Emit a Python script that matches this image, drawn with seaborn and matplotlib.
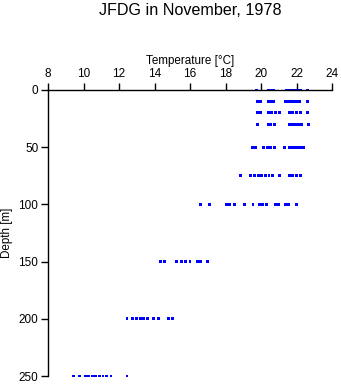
import matplotlib
matplotlib.use("Agg")
import matplotlib.pyplot as plt
import seaborn as sns
import pandas as pd

# Temperature profile samples, grouped by sampling depth (m)
depths = [0, 10, 20, 30, 50, 75, 100, 150, 200, 250]
temp_0 = [19.75, 20.4, 20.55, 20.7, 21.45, 21.6, 21.75, 21.9, 22.05, 22.2, 22.6]
temp_10 = [19.8, 19.95, 20.4, 20.55, 20.7, 21.4, 21.55, 21.7, 21.85, 22.0, 22.15, 22.6]
temp_20 = [19.8, 19.95, 20.4, 20.6, 20.8, 21.05, 21.6, 21.8, 22.0, 22.2, 22.6]
temp_30 = [19.8, 20.4, 20.55, 20.75, 21.6, 21.8, 21.95, 22.1, 22.3, 22.65]
temp_50 = [19.5, 19.7, 20.15, 20.35, 20.55, 20.75, 21.3, 21.6, 21.75, 21.9, 22.05, 22.2, 22.4]
temp_75 = [18.85, 19.4, 19.65, 19.85, 20.05, 20.25, 20.45, 20.65, 21.05, 21.6, 21.8, 22.0, 22.2]
temp_100 = [16.6, 17.1, 18.05, 18.2, 18.5, 19.05, 19.55, 19.9, 20.1, 20.3, 20.8, 21.0, 21.4, 21.55, 22.0]
temp_150 = [14.35, 14.55, 15.25, 15.5, 15.75, 16.0, 16.4, 16.6, 17.0]
temp_200 = [12.45, 12.75, 13.0, 13.2, 13.4, 13.6, 13.95, 14.2, 14.8, 15.0]
temp_250 = [9.45, 9.8, 10.1, 10.3, 10.5, 10.7, 10.9, 11.1, 11.3, 11.55, 12.45]

x_ticks = [8, 10, 12, 14, 16, 18, 20, 22, 24]
y_ticks = [0, 50, 100, 150, 200, 250]

profiles = [temp_0, temp_10, temp_20, temp_30, temp_50,
            temp_75, temp_100, temp_150, temp_200, temp_250]
rows = []
for d, temps in zip(depths, profiles):
    for t in temps:
        rows.append({"Temperature": t, "Depth": d})
df = pd.DataFrame(rows)

sns.set_theme(style="white")
plt.rcParams["font.family"] = ["Liberation Sans", "DejaVu Sans"]

fig = plt.figure(figsize=(3.41, 3.84), dpi=100)
ax = fig.add_axes([48 / 341, 1 - 376 / 384, (332 - 48) / 341, (376 - 90) / 384])

sns.scatterplot(data=df, x="Temperature", y="Depth", ax=ax, marker="s",
                s=4.5, color="#0000ff", edgecolor="none", linewidth=0,
                clip_on=False, legend=False)

ax.set_xlim(8, 24)
ax.set_ylim(250, 0)
ax.set_xticks(x_ticks)
ax.set_yticks(y_ticks)
ax.xaxis.set_ticks_position("top")
ax.xaxis.set_label_position("top")
ax.tick_params(axis="both", direction="out", length=5, width=1, color="black",
               labelsize=8.5, pad=2, labelcolor="black")
ax.tick_params(axis="x", top=True, bottom=False)
ax.tick_params(axis="y", left=True)

for side in ["right", "bottom"]:
    ax.spines[side].set_visible(False)
for side in ["top", "left"]:
    ax.spines[side].set_visible(True)
    ax.spines[side].set_color("black")
    ax.spines[side].set_linewidth(1)

ax.set_xlabel("Temperature [°C]", fontsize=8.4, labelpad=3, color="black")
ax.set_ylabel("Depth [m]", fontsize=8.4, labelpad=4, color="black")
ax.grid(False)

fig.suptitle("JFDG in November, 1978", x=190 / 341, y=1 - 3 / 384,
             va="top", fontsize=11.6, color="black")

fig.savefig("out.png", dpi=100)
